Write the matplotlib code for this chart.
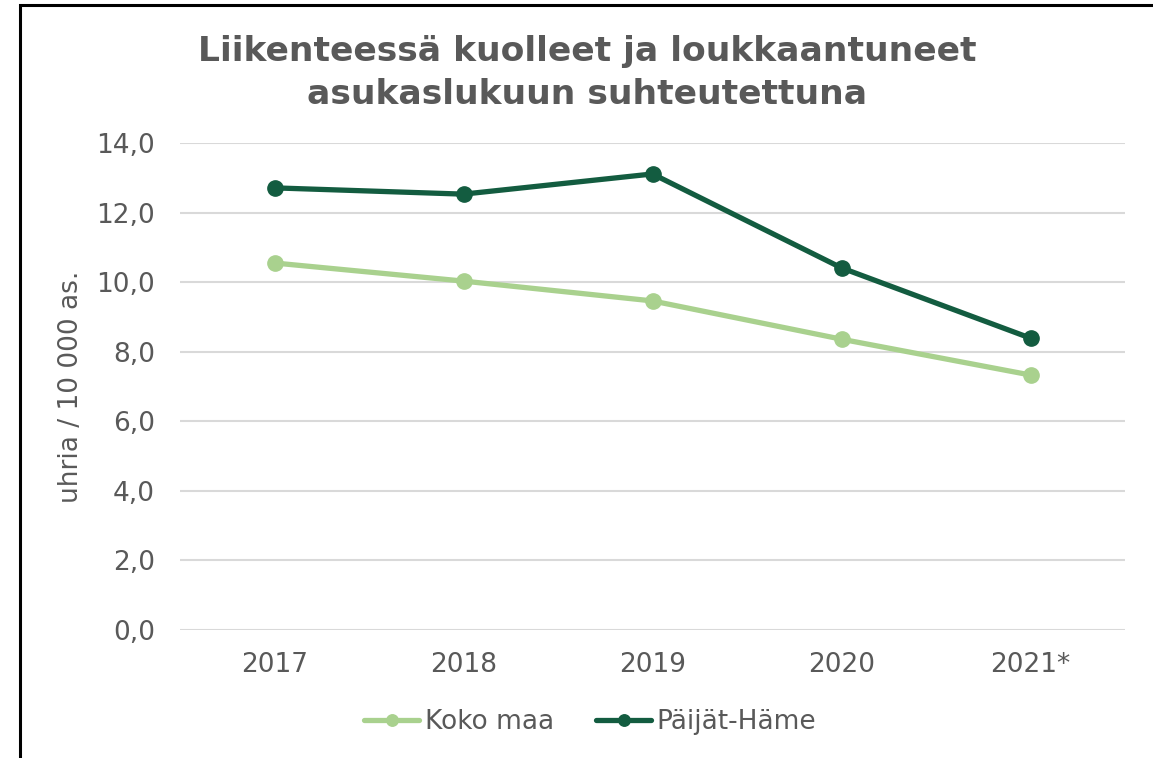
import matplotlib
matplotlib.use('Agg')
import matplotlib.pyplot as plt
from matplotlib.patches import Rectangle

# data
years = ['2017', '2018', '2019', '2020', '2021*']
koko_maa = [10.55, 10.03, 9.46, 8.36, 7.33]
paijat_hame = [12.71, 12.53, 13.11, 10.41, 8.39]
y_ticks = [0, 2, 4, 6, 8, 10, 12, 14]

grey = '#595959'
light_green = '#a9d18e'
dark_green = '#135c40'

plt.rcParams['font.family'] = ['DejaVu Sans']

W, H = 1153, 758
fig = plt.figure(figsize=(W / 100, H / 100), dpi=100)
ax = fig.add_axes([180 / W, 1 - 630 / H, 945 / W, 487 / H])

x = range(len(years))
ax.plot(x, koko_maa, color=light_green, lw=3.8, marker='o', ms=11,
        solid_capstyle='round', label='Koko maa', zorder=3)
ax.plot(x, paijat_hame, color=dark_green, lw=3.8, marker='o', ms=11,
        solid_capstyle='round', label='Päijät-Häme', zorder=3)

ax.set_xlim(-0.5, len(years) - 0.5)
ax.set_ylim(0, 14)
ax.set_yticks(y_ticks)
ax.set_yticklabels(['{:.1f}'.format(v).replace('.', ',') for v in y_ticks])
ax.set_xticks(list(x))
ax.set_xticklabels(years)
ax.tick_params(axis='both', length=0, labelsize=19, colors=grey)
ax.tick_params(axis='y', pad=18)
ax.tick_params(axis='x', pad=16)
ax.grid(axis='y', color='#d9d9d9', lw=1.5)
ax.set_axisbelow(True)
for s in ax.spines.values():
    s.set_visible(False)

ax.set_ylabel('uhria / 10 000 as.', fontsize=19, color=grey)
ax.yaxis.set_label_coords(-96 / 945, 0.5)

fig.text(587 / W, 1 - 51 / H, 'Liikenteessä kuolleet ja loukkaantuneet',
         ha='center', va='center', fontsize=24.8, fontweight='bold', color=grey)
fig.text(587 / W, 1 - 94 / H, 'asukaslukuun suhteutettuna',
         ha='center', va='center', fontsize=24.8, fontweight='bold', color=grey)

leg = fig.legend(loc='center', bbox_to_anchor=(590 / W, 1 - 722 / H), ncol=2,
                 frameon=False, fontsize=19, handlelength=2.1, markerscale=0.75,
                 columnspacing=1.6, handletextpad=0.2)
for t in leg.get_texts():
    t.set_color(grey)

# outer chart border (cropped at right and bottom)
fig.patches.append(Rectangle((20 / W, -0.1), 1.2, 1 - 5 / H + 0.1,
                             transform=fig.transFigure, fill=False,
                             edgecolor='black', lw=2.2))

fig.savefig('out.png', dpi=100)
